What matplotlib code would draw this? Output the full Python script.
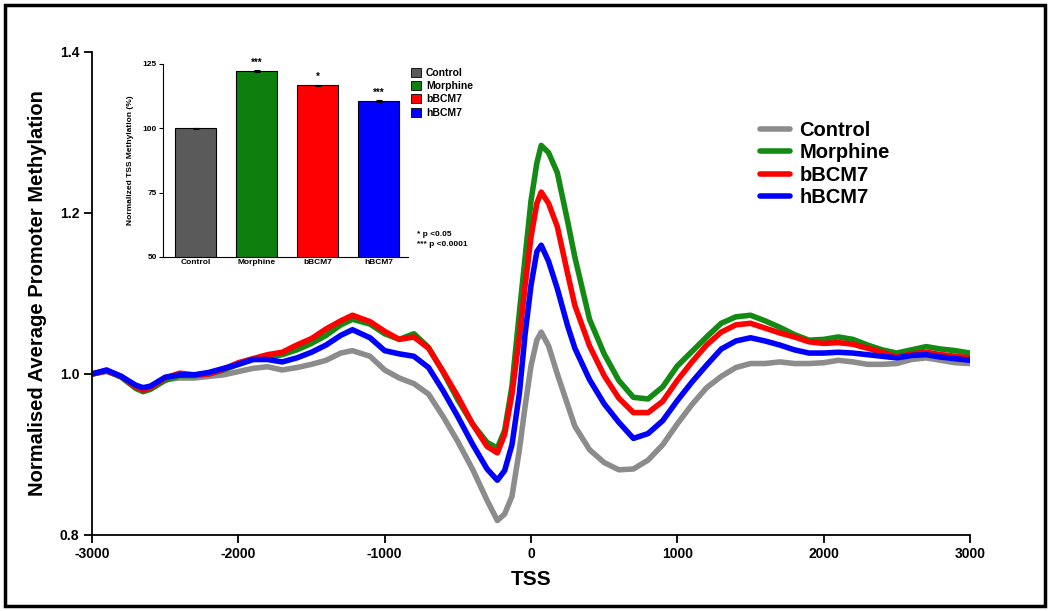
import numpy as np
import matplotlib
matplotlib.use("Agg")
import matplotlib.pyplot as plt
from matplotlib.patches import Rectangle, Patch

plt.rcParams['font.family'] = ['Liberation Sans', 'DejaVu Sans']
plt.rcParams['font.weight'] = 'bold'
plt.rcParams['axes.unicode_minus'] = False

# profile around the TSS (bp)
tss = [-3000, -2900, -2800, -2700, -2650, -2600,
       -2500, -2400, -2300, -2200, -2100, -2000, -1900, -1800, -1700, -1600,
       -1500, -1400, -1300, -1220, -1100, -1000, -900, -800, -700, -600,
       -500, -400, -300, -230, -180, -130, -80, -40,
       0, 40, 70, 120, 180, 250, 300, 400, 500, 600,
       700, 800, 900, 1000, 1100, 1200, 1300, 1400, 1500, 1600,
       1700, 1800, 1900, 2000, 2100, 2200, 2300, 2400, 2500, 2600,
       2700, 2800, 2900, 3000]

control = [1.000, 1.003, 0.997, 0.985, 0.981, 0.984,
           0.993, 0.995, 0.995, 0.997, 0.999, 1.003, 1.007, 1.009, 1.005, 1.008,
           1.012, 1.017, 1.026, 1.029, 1.022, 1.005, 0.995, 0.988, 0.975, 0.947,
           0.916, 0.882, 0.843, 0.818, 0.826, 0.848, 0.905, 0.960,
           1.010, 1.042, 1.052, 1.035, 1.000, 0.962, 0.935, 0.906, 0.890, 0.881,
           0.882, 0.893, 0.912, 0.938, 0.962, 0.983, 0.997, 1.008, 1.013, 1.013,
           1.015, 1.013, 1.013, 1.014, 1.017, 1.015, 1.012, 1.012, 1.013, 1.018,
           1.020, 1.017, 1.014, 1.013]

morphine = [1.000, 1.004, 0.996, 0.982, 0.978, 0.981,
            0.992, 0.998, 0.998, 1.000, 1.005, 1.012, 1.018, 1.021, 1.024, 1.030,
            1.038, 1.048, 1.061, 1.068, 1.062, 1.050, 1.043, 1.050, 1.033, 1.002,
            0.968, 0.938, 0.915, 0.908, 0.930, 0.985, 1.075, 1.145,
            1.215, 1.262, 1.284, 1.275, 1.250, 1.190, 1.145, 1.068, 1.025, 0.992,
            0.971, 0.969, 0.984, 1.010, 1.028, 1.046, 1.063, 1.071, 1.073, 1.066,
            1.058, 1.049, 1.042, 1.043, 1.046, 1.043, 1.036, 1.030, 1.026, 1.030,
            1.034, 1.031, 1.029, 1.026]

bbcm7 = [1.000, 1.004, 0.997, 0.984, 0.980, 0.983,
         0.995, 1.001, 0.999, 1.000, 1.006, 1.014, 1.019, 1.024, 1.027, 1.036,
         1.044, 1.056, 1.066, 1.073, 1.065, 1.053, 1.043, 1.046, 1.032, 1.003,
         0.972, 0.938, 0.910, 0.902, 0.925, 0.975, 1.045, 1.110,
         1.170, 1.212, 1.226, 1.212, 1.183, 1.125, 1.085, 1.035, 0.998, 0.970,
         0.952, 0.952, 0.966, 0.992, 1.015, 1.036, 1.052, 1.061, 1.063, 1.057,
         1.051, 1.046, 1.040, 1.038, 1.039, 1.037, 1.032, 1.027, 1.021, 1.025,
         1.027, 1.024, 1.022, 1.020]

hbcm7 = [1.000, 1.005, 0.997, 0.986, 0.983, 0.985,
         0.996, 0.999, 0.999, 1.002, 1.007, 1.012, 1.018, 1.018, 1.015, 1.020,
         1.027, 1.036, 1.048, 1.055, 1.045, 1.029, 1.025, 1.022, 1.008, 0.979,
         0.947, 0.913, 0.882, 0.868, 0.880, 0.912, 0.975, 1.050,
         1.110, 1.152, 1.160, 1.140, 1.106, 1.060, 1.032, 0.993, 0.963, 0.940,
         0.920, 0.926, 0.942, 0.967, 0.990, 1.011, 1.031, 1.041, 1.045, 1.041,
         1.036, 1.030, 1.026, 1.026, 1.027, 1.026, 1.024, 1.022, 1.020, 1.023,
         1.024, 1.021, 1.019, 1.017]

# inset bar chart
groups = ["Control", "Morphine", "bBCM7", "hBCM7"]
tss_pct = [100.0, 122.3, 116.7, 110.6]
tss_err = [0.1, 0.3, 0.3, 0.4]
stars = ["", "***", "*", "***"]

line_colors = ["#8c8c8c", "#138a13", "#ff0000", "#0000ff"]
bar_colors = ["#5a5a5a", "#0c7f0c", "#ff0000", "#0000ff"]

fig = plt.figure(figsize=(10.5, 6.11), dpi=100)

# outer frame
fig.patches.append(Rectangle((5 / 1050, 5 / 611), 1040 / 1050, 601 / 611,
                             transform=fig.transFigure, fill=False,
                             edgecolor="black", linewidth=2.5))

ax = fig.add_axes([0.0876, 0.1244, 0.8362, 0.7905])
for name, vals, c in zip(groups, [control, morphine, bbcm7, hbcm7], line_colors):
    ax.plot(tss, vals, color=c, lw=4, solid_joinstyle="round",
            solid_capstyle="round", label=name)

ax.set_xlim(-3000, 3000)
ax.set_ylim(0.8, 1.4)
ax.set_xticks([-3000, -2000, -1000, 0, 1000, 2000, 3000])
ax.set_yticks([0.8, 1.0, 1.2, 1.4])
ax.set_yticklabels(["0.8", "1.0", "1.2", "1.4"])
for s in ["top", "right"]:
    ax.spines[s].set_visible(False)
for s in ["left", "bottom"]:
    ax.spines[s].set_linewidth(1.3)
ax.tick_params(direction="out", length=6, width=1.3, labelsize=10, pad=3)
for lab in ax.get_xticklabels() + ax.get_yticklabels():
    lab.set_fontweight("bold")
ax.set_xlabel("TSS", fontsize=15, fontweight="bold", labelpad=6)
ax.set_ylabel("Normalised Average Promoter Methylation", fontsize=14.5,
              fontweight="bold", labelpad=9)

ax.legend(loc="upper left", bbox_to_anchor=(760 / 1050, 1 - 121 / 611),
          bbox_transform=fig.transFigure, frameon=False,
          handlelength=1.5, handletextpad=0.45, labelspacing=0.17,
          borderpad=0, borderaxespad=0, prop={"weight": "bold", "size": 14.5})

# inset
ins = fig.add_axes([0.1552, 0.5794, 0.2333, 0.3159])
xpos = np.arange(len(groups))
ins.bar(xpos, tss_pct, width=0.67, color=bar_colors, edgecolor="black",
        linewidth=0.8, yerr=tss_err, capsize=2.5,
        error_kw={"elinewidth": 0.8, "capthick": 0.8})
for x, v, st in zip(xpos, tss_pct, stars):
    if st:
        ins.text(x, v + 1.2, st, ha="center", va="bottom", fontsize=7,
                 fontweight="bold")
ins.set_xlim(-0.54, 3.48)
ins.set_ylim(50, 125)
ins.set_yticks([50, 75, 100, 125])
ins.set_xticks(xpos)
ins.set_xticklabels(groups)
for s in ["top", "right"]:
    ins.spines[s].set_visible(False)
ins.spines["left"].set_linewidth(0.8)
ins.spines["bottom"].set_linewidth(0.8)
ins.tick_params(direction="out", length=3, width=0.8, labelsize=6, pad=1.5)
ins.tick_params(axis="x", length=0)
for lab in ins.get_xticklabels() + ins.get_yticklabels():
    lab.set_fontweight("bold")
ins.set_ylabel("Normalized TSS Methylation (%)", fontsize=6, fontweight="bold",
               labelpad=6)

handles = [Patch(facecolor=c, edgecolor="black", linewidth=0.6) for c in bar_colors]
ins.legend(handles, groups, loc="upper left",
           bbox_to_anchor=(411 / 1050, 1 - 68 / 611), bbox_transform=fig.transFigure,
           frameon=False, handlelength=0.95, handleheight=0.95, handletextpad=0.5,
           labelspacing=0.3, borderpad=0, borderaxespad=0,
           prop={"weight": "bold", "size": 7.5})

fig.text(417 / 1050, 1 - 235 / 611, "* p <0.05", fontsize=6, fontweight="bold",
         va="center", ha="left")
fig.text(417 / 1050, 1 - 245 / 611, "*** p <0.0001", fontsize=6, fontweight="bold",
         va="center", ha="left")

fig.savefig("out.png", dpi=100)
